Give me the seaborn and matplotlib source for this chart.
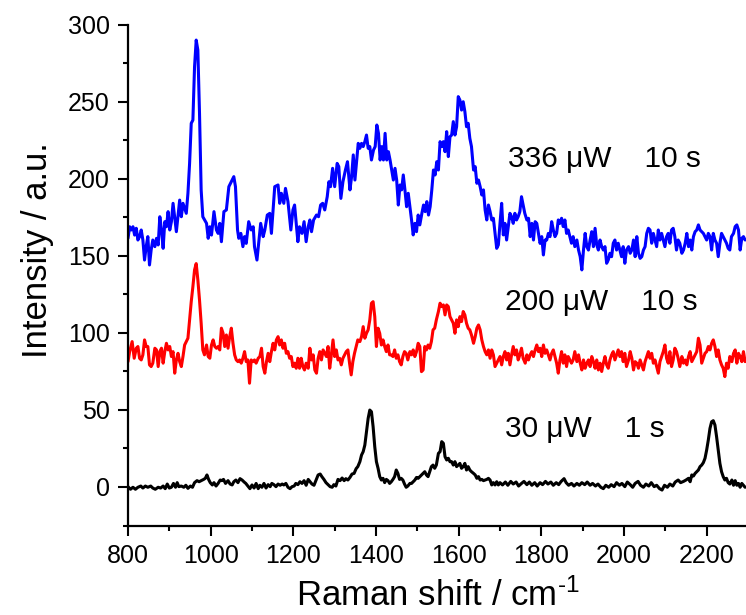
import numpy as np
import pandas as pd
import matplotlib
matplotlib.use("Agg")
import matplotlib.pyplot as plt
import seaborn as sns
from matplotlib.ticker import MultipleLocator

# ---------------------------------------------------------------------------
# Raman spectra (shift in cm^-1, intensity in a.u.)
# ---------------------------------------------------------------------------
blue_shift = [
    800, 804, 808, 812, 816, 820, 824, 828, 832, 836, 840, 844,
    848, 852, 856, 860, 865, 869, 873, 877, 881, 885, 889, 893,
    897, 901, 905, 909, 917, 925, 929, 933, 941, 945, 949, 953,
    957, 961, 965, 969, 973, 977, 981, 990, 994, 998, 1002, 1008,
    1014, 1018, 1022, 1026, 1032, 1038, 1044, 1050, 1056, 1060, 1065, 1068,
    1073, 1078, 1082, 1086, 1092, 1098, 1103, 1106, 1112, 1117, 1121, 1127,
    1131, 1137, 1143, 1147, 1155, 1163, 1167, 1171, 1177, 1181, 1187, 1194,
    1199, 1203, 1211, 1215, 1221, 1226, 1231, 1236, 1240, 1244, 1249, 1256,
    1261, 1266, 1271, 1276, 1282, 1286, 1290, 1295, 1300, 1306, 1310, 1315,
    1320, 1326, 1331,
    1337, 1341, 1345, 1349, 1353, 1357, 1361, 1365, 1369, 1373, 1377, 1381,
    1385, 1389, 1394, 1398, 1402, 1406, 1410, 1414, 1418, 1422, 1426, 1430,
    1434, 1438, 1442, 1446, 1450, 1454, 1458, 1462, 1466, 1470, 1474, 1478,
    1482, 1486, 1490, 1494, 1498, 1502, 1506, 1511, 1515, 1519, 1523, 1527,
    1531, 1535, 1539, 1543, 1547, 1551, 1555, 1559, 1563, 1567, 1571, 1575,
    1579, 1583, 1587, 1591, 1595, 1599, 1603, 1607, 1611, 1615, 1619, 1623,
    1627, 1631, 1636, 1640, 1644, 1648, 1652, 1656, 1660, 1664, 1668, 1672,
    1676, 1680, 1684, 1688, 1692, 1696, 1700, 1704, 1708, 1712, 1716, 1720,
    1724, 1728, 1732, 1736, 1740, 1744, 1748, 1752, 1756, 1760, 1765, 1769,
    1773, 1777, 1781, 1785, 1789, 1793, 1797, 1801, 1805, 1809, 1813, 1817,
    1821,
    1825, 1829, 1833, 1837, 1841, 1845, 1849, 1853, 1857, 1861, 1865, 1869,
    1873, 1877, 1881, 1886, 1890, 1894, 1898, 1902, 1906, 1910, 1914, 1918,
    1922, 1926, 1930, 1934, 1938, 1942, 1946, 1950, 1954, 1958, 1962, 1966,
    1970, 1974, 1978, 1982, 1986, 1990, 1994, 1998, 2002, 2006, 2011, 2015,
    2019, 2023, 2027, 2031, 2035, 2039, 2043, 2047, 2051, 2055, 2059, 2063,
    2067, 2071, 2075, 2079, 2083, 2087, 2091, 2095, 2099, 2103, 2107, 2111,
    2115, 2119, 2123, 2127, 2131, 2135, 2140, 2144, 2148, 2152, 2156, 2160,
    2164, 2168, 2172, 2176, 2180, 2184, 2188, 2192, 2196, 2200, 2204, 2208,
    2212, 2216, 2220, 2224, 2228, 2232, 2236, 2240, 2244, 2248, 2252, 2256,
    2260, 2265, 2269, 2273, 2277, 2281, 2285, 2289, 2293,
]
blue_intensity = [
    161.3, 168.8, 166.7, 168.8, 163.4, 167.8, 160.2, 162.4, 166.7, 160.2, 147.2, 155.9,
    162.4, 144.0, 153.7, 160.2, 155.9, 161.3, 157.0, 175.3, 166.7, 154.8, 172.1, 168.8,
    178.6, 166.7, 172.1, 184.0, 165.6, 186.1, 175.3, 184.0, 177.5, 190.5, 209.9, 235.9,
    238.0, 272.6, 289.9, 283.4, 242.4, 192.6, 175.3, 171.0, 161.3, 168.8, 163.4, 178.6,
    166.7, 164.5, 171.0, 159.1, 178.6, 179.7, 194.8, 198.0, 201.3, 194.8, 166.7, 161.3,
    164.5, 155.9, 162.4, 158.0, 172.1, 166.7, 168.8, 155.9, 147.2, 160.2, 171.0, 162.4,
    166.7, 176.4, 177.5, 164.5, 194.8, 195.9, 184.0, 190.5, 184.0, 193.7, 185.1, 166.7,
    179.7, 182.9, 159.1, 168.8, 164.5, 172.1, 159.1, 168.8, 173.2, 165.6, 173.2, 176.4,
    175.3, 182.9, 184.0, 179.7, 188.3, 198.0, 194.8, 206.7, 194.8, 209.9, 207.8, 187.2,
    198.0, 205.6, 211.0,
    192.7, 201.3, 215.4, 199.1, 211.0, 222.9, 219.7, 222.9, 220.8, 224.0, 228.3, 219.7,
    220.8, 212.1, 218.6, 220.8, 234.8, 229.4, 212.1, 220.8, 212.1, 229.4, 212.1, 217.5,
    212.1, 205.6, 199.1, 206.7, 199.1, 182.9, 195.9, 192.7, 202.4, 192.7, 181.8, 190.5,
    181.8, 173.2, 163.5, 171.0, 165.6, 176.4, 170.0, 177.5, 182.9, 178.6, 185.1, 176.4,
    181.8, 192.7, 205.6, 202.4, 211.0, 205.6, 224.0, 220.8, 224.0, 217.5, 230.5, 214.3,
    227.2, 228.3, 237.0, 228.3, 233.7, 253.2, 251.0, 244.5, 249.9, 243.5, 233.7, 235.9,
    226.2, 220.8, 205.6, 207.8, 197.0, 199.1, 194.8, 189.4, 192.7, 179.7, 173.2, 182.9,
    178.6, 173.2, 174.3, 164.5, 154.8, 157.0, 171.0, 184.0, 163.5, 171.0, 160.2, 168.9,
    177.5, 175.4, 171.0, 177.5, 173.2, 175.4, 178.6, 188.3, 182.9, 177.5, 173.2, 174.3,
    162.4, 171.0, 160.2, 172.1, 171.0, 164.5, 158.0, 162.4, 150.5, 160.2, 160.2, 164.5,
    162.4,
    172.1, 166.7, 162.4, 164.5, 173.2, 171.0, 174.3, 168.9, 173.2, 164.5, 166.7, 162.4,
    158.1, 162.4, 155.9, 160.2, 153.7, 149.4, 140.8, 153.7, 164.5, 155.9, 153.7, 160.2,
    165.6, 155.9, 167.8, 157.0, 153.7, 160.2, 155.9, 153.7, 155.9, 145.1, 147.3, 151.6,
    149.4, 158.1, 160.2, 153.7, 158.1, 153.7, 149.4, 155.9, 145.1, 153.7, 155.9, 151.6,
    153.7, 160.2, 149.4, 162.4, 151.6, 148.3, 149.4, 153.7, 155.9, 164.5, 167.8, 166.7,
    158.1, 164.5, 160.2, 155.9, 166.7, 160.2, 164.5, 160.2, 155.9, 162.4, 164.5, 158.1,
    166.7, 167.8, 162.4, 153.7, 160.2, 158.1, 151.6, 153.7, 158.1, 164.5, 155.9, 160.2,
    153.7, 162.4, 165.6, 166.7, 170.0, 166.7, 165.6, 164.5, 162.4, 160.2, 164.5, 162.4,
    153.7, 164.5, 160.2, 158.1, 149.4, 158.1, 164.5, 162.4, 160.2, 158.1, 154.8, 153.7,
    162.4, 164.5, 168.9, 170.0, 166.7, 153.7, 161.3, 162.4, 160.2,
]

red_shift = [
    800, 804, 810, 815, 820, 824, 828, 832, 836, 840, 844, 848,
    852, 856, 860, 865, 869, 873, 877, 881, 885, 889, 893, 897,
    901, 905, 909, 913, 917, 921, 925, 929, 933, 937, 941, 945,
    949, 953, 957, 961, 965, 969, 973, 977, 981, 985, 990, 994,
    998, 1002, 1006, 1010, 1014, 1018, 1022, 1026, 1030, 1034, 1038, 1042,
    1046, 1050, 1054, 1058, 1062, 1066, 1070, 1074, 1078, 1082, 1086, 1090,
    1094, 1098, 1102, 1106, 1110, 1115, 1119, 1123, 1127, 1131, 1135, 1139,
    1143, 1147, 1151, 1155, 1159, 1163, 1167, 1171, 1175, 1179, 1183, 1187,
    1191, 1195, 1199, 1203, 1207, 1211, 1215, 1219, 1223, 1227, 1231, 1236,
    1240, 1244, 1248, 1252, 1256, 1260, 1264, 1268, 1272, 1276, 1280, 1284,
    1288, 1292, 1296, 1300, 1304, 1308, 1312, 1316, 1320, 1324, 1328, 1332,
    1336, 1340, 1344, 1348, 1352, 1356, 1361, 1365, 1369, 1373, 1377, 1381,
    1385, 1389, 1393, 1397, 1401, 1405, 1409, 1413, 1417, 1421, 1425, 1429,
    1433, 1437, 1441, 1445, 1449, 1453, 1457, 1461, 1465, 1469, 1473, 1477,
    1482, 1486, 1490, 1494, 1498, 1502, 1506, 1510, 1514, 1518, 1522, 1526,
    1530, 1534, 1538, 1542, 1546,
    1551, 1555, 1559, 1563, 1567, 1571, 1575, 1579, 1583, 1587, 1591, 1595,
    1599, 1603, 1607, 1611, 1615, 1619, 1623, 1627, 1631, 1636, 1640, 1644,
    1648, 1652, 1656, 1660, 1664, 1668, 1672, 1676, 1680, 1684, 1688, 1692,
    1696, 1700, 1704, 1708, 1712, 1716, 1720, 1724, 1728, 1732, 1736, 1740,
    1744, 1748, 1752, 1756, 1761, 1765, 1769, 1773, 1777, 1781, 1785, 1789,
    1793, 1797, 1801, 1805, 1809, 1813, 1817, 1821, 1825, 1829, 1833, 1837,
    1841, 1845, 1849, 1853, 1857, 1861, 1865, 1869, 1873, 1877, 1881, 1886,
    1890, 1894, 1898, 1902, 1906, 1910, 1914, 1918, 1922, 1926, 1930, 1934,
    1938, 1942, 1946, 1950, 1954, 1958, 1962, 1966, 1970, 1974, 1978, 1982,
    1986, 1990, 1994, 1998, 2002, 2006, 2011, 2015, 2019, 2023, 2027, 2031,
    2035, 2039, 2043, 2047, 2051, 2055, 2059, 2063, 2067, 2071, 2075, 2079,
    2083, 2087, 2091, 2095, 2099, 2103, 2107, 2111, 2115, 2119, 2123, 2127,
    2131, 2135, 2140, 2144, 2148, 2152, 2156, 2160, 2164, 2168, 2172, 2176,
    2180, 2184, 2188, 2192, 2196, 2200, 2204, 2208, 2212, 2216, 2220, 2224,
    2228, 2232, 2236, 2240, 2244, 2248, 2252, 2256, 2261, 2265, 2269, 2273,
    2277, 2281, 2285, 2289, 2293,
]
red_intensity = [
    81.3, 87.8, 94.3, 83.5, 90.0, 91.1, 83.5, 82.4, 85.7, 95.4, 91.1, 91.1,
    79.2, 78.1, 80.3, 90.0, 88.9, 78.1, 87.8, 90.0, 80.3, 87.8, 93.2, 88.9,
    91.1, 84.6, 87.8, 73.8, 82.4, 86.7, 81.3, 78.1, 84.6, 92.1, 94.3, 96.5,
    108.4, 120.2, 130.0, 140.8, 144.9, 134.3, 121.3, 106.2, 88.9, 85.7, 92.1, 84.6,
    83.5, 92.1, 95.4, 91.1, 90.0, 91.1, 88.9, 103.0, 99.7, 91.1, 98.6, 90.0,
    97.5, 103.0, 93.2, 85.7, 82.4, 81.3, 82.4, 80.3, 83.5, 87.8, 81.3, 82.4,
    67.3, 82.4, 81.3, 82.4, 80.3, 83.5, 84.6, 90.0, 78.1, 73.8, 81.3, 86.7,
    81.3, 87.8, 93.2, 88.9, 95.4, 97.5, 92.1, 95.4, 90.0, 93.2, 86.7, 87.8,
    83.5, 84.6, 78.1, 80.3, 77.0, 83.5, 77.0, 83.5, 78.1, 75.9, 80.3, 77.0,
    90.0, 82.4, 85.7, 75.9, 73.8, 83.5, 87.8, 82.4, 88.9, 86.7, 84.6, 91.1,
    77.0, 85.7, 95.4, 84.6, 88.9, 82.4, 83.5, 79.2, 83.5, 85.7, 87.8, 88.9,
    80.3, 72.7, 81.3, 86.7, 91.1, 95.4, 94.3, 97.5, 104.0, 96.5, 99.7, 101.9,
    108.4, 119.2, 120.2, 110.5, 91.1, 103.0, 99.7, 92.1, 95.4, 91.1, 87.8, 92.1,
    85.7, 85.7, 84.6, 88.9, 83.5, 85.7, 81.3, 79.2, 84.6, 87.8, 86.7, 82.4,
    87.8, 85.7, 88.9, 84.6, 87.8, 93.2, 91.1, 74.8, 75.9, 91.1, 88.9, 92.1,
    90.0, 94.3, 101.9, 103.0, 108.4,
    113.8, 119.2, 117.0, 118.1, 111.6, 118.1, 117.0, 110.5, 108.4, 106.2, 99.7, 108.4,
    104.0, 110.5, 107.3, 113.8, 111.6, 106.2, 103.0, 101.9, 98.6, 93.2, 97.5, 103.0,
    105.1, 101.9, 95.4, 91.1, 87.8, 85.7, 88.9, 83.5, 88.9, 85.7, 78.1, 80.3,
    82.4, 84.6, 79.2, 84.6, 87.8, 82.4, 86.7, 79.2, 85.7, 91.1, 85.7, 88.9,
    82.4, 85.7, 90.0, 83.5, 80.3, 85.7, 82.4, 85.7, 87.8, 84.6, 88.9, 92.1,
    87.8, 90.0, 84.6, 92.1, 86.7, 88.9, 85.7, 82.4, 86.7, 88.9, 84.6, 80.3,
    73.8, 82.4, 87.8, 80.3, 85.7, 78.1, 84.6, 82.4, 80.3, 82.4, 87.8, 81.3,
    85.7, 80.3, 75.9, 82.4, 77.0, 80.3, 82.4, 78.1, 84.6, 81.3, 77.0, 82.4,
    75.9, 80.3, 74.9, 80.3, 84.6, 79.2, 77.0, 82.4, 85.7, 87.8, 82.4, 85.7,
    88.9, 84.6, 87.8, 81.3, 86.7, 78.1, 82.4, 87.8, 83.5, 75.9, 81.3, 80.3,
    77.0, 82.4, 79.2, 75.9, 81.3, 84.6, 87.8, 83.5, 86.7, 80.3, 82.4, 78.1,
    73.8, 81.3, 84.6, 87.8, 92.1, 83.5, 80.3, 87.8, 78.1, 82.4, 90.0, 87.8,
    83.5, 78.1, 84.6, 80.3, 82.4, 79.2, 84.6, 87.8, 81.3, 83.5, 85.7, 87.8,
    96.5, 92.1, 80.3, 83.5, 86.7, 87.8, 91.1, 88.9, 93.2, 95.4, 91.1, 84.6,
    88.9, 82.4, 79.2, 77.0, 71.6, 80.3, 77.0, 84.6, 81.3, 86.7, 88.9, 80.3,
    86.7, 84.6, 81.3, 87.8, 81.3,
]

black_shift = [
    800, 806, 812, 818, 824, 831, 836, 842, 848, 855, 860, 866,
    873, 879, 885, 890, 895, 900, 905, 910, 915, 919, 923, 929,
    935, 940, 945, 951, 956, 961, 967, 972, 977, 983, 987, 991,
    995, 999, 1004, 1008, 1013, 1018, 1023, 1027, 1031, 1036, 1042, 1047,
    1052, 1056, 1061, 1066, 1071, 1076, 1081, 1085, 1090, 1095, 1100, 1105,
    1110, 1115, 1119, 1124, 1129, 1134, 1139, 1144, 1148, 1153, 1158, 1163,
    1168, 1173, 1177, 1182, 1187, 1192, 1197, 1202, 1206, 1211, 1216, 1221,
    1226, 1231, 1236, 1240, 1245, 1250, 1255, 1260, 1265, 1269, 1274, 1279,
    1284, 1289, 1294, 1298, 1303, 1308, 1313, 1318, 1323, 1327, 1332, 1337,
    1342, 1347, 1352, 1356, 1361, 1365, 1369, 1373, 1377, 1381, 1385, 1389,
    1393, 1397, 1401, 1405, 1409, 1413, 1417, 1421, 1425, 1429, 1433, 1437,
    1441, 1445, 1449, 1453, 1457, 1461, 1465, 1469, 1473, 1477, 1482, 1486,
    1490, 1494, 1498, 1502, 1506, 1510, 1514, 1518, 1522, 1526, 1530, 1534,
    1538, 1542, 1546,
    1551, 1555, 1559, 1563, 1567, 1571, 1575, 1579, 1583, 1587, 1591, 1595,
    1599, 1603, 1607, 1611, 1615, 1619, 1623, 1627, 1631, 1636, 1640, 1644,
    1648, 1652, 1656, 1660, 1664, 1668, 1672, 1676, 1680, 1684, 1688, 1692,
    1696, 1700, 1706, 1713, 1719, 1726, 1732, 1739, 1745, 1752, 1758, 1765,
    1771, 1777, 1784, 1790, 1797, 1803, 1810, 1816, 1823, 1829, 1836, 1842,
    1848, 1855, 1860, 1866, 1873, 1879, 1886, 1892, 1898, 1905, 1911, 1918,
    1924, 1931, 1937, 1944, 1950, 1956, 1963, 1969, 1976, 1982, 1989, 1995,
    2002, 2008, 2015, 2021, 2027, 2034, 2040, 2047, 2053, 2060, 2066, 2073,
    2079, 2086, 2092, 2098, 2105, 2111, 2118, 2124, 2131, 2137, 2144, 2150,
    2156, 2160, 2164, 2168, 2172, 2176, 2180, 2184, 2188, 2192, 2196, 2200,
    2204, 2208, 2212, 2216, 2220, 2224, 2228, 2232, 2236, 2240, 2244, 2248,
    2252, 2256, 2261, 2265, 2269, 2273, 2277, 2281, 2285, 2289, 2293,
]
black_intensity = [
    0.2, -1.5, -0.2, -1.5, -0.2, 0.6, -0.7, 0.6, -0.2, 0.6, -0.7, -1.5,
    -0.2, -0.7, 0.6, -1.1, 1.9, -0.7, -0.2, 2.3, -0.2, 2.8, 0.2, 0.6,
    -0.2, 1.1, -0.9, 0.6, -0.2, 2.8, 4.1, 3.4, 4.1, 4.9, 5.6, 7.8,
    4.9, 2.8, 1.3, 2.8, 0.6, 2.3, 4.5, 4.1, 4.9, 2.3, 4.1, 1.9,
    1.3, 3.4, 4.5, 2.8, 5.4, 4.5, 3.2, 2.3, 0.6, -1.1, 1.3, -0.7,
    2.3, -1.1, 1.1, -0.2, 2.3, -0.7, 1.5, 0.2, 2.3, 1.5, 0.2, 1.9,
    1.1, 1.9, 1.3, 2.3, -0.2, -1.1, 0.2, 0.6, 2.3, 1.5, 3.4, 2.3,
    4.1, 1.1, 4.9, 3.6, 1.9, 1.1, 4.5, 7.8, 8.4, 6.7, 4.9, 2.8,
    1.5, 0.2, -0.2, 1.5, 0.6, 4.9, 4.1, 5.8, 4.1, 5.4, 4.5, 6.2,
    8.4, 8.8, 11.9, 13.2, 16.4, 20.7, 22.9, 27.2, 35.9, 44.5, 49.9, 48.8,
    39.1, 26.1, 16.4, 12.1, 6.7, 4.5, 5.6, 2.8, 4.9, 4.1, 2.3, 3.4,
    4.9, 6.7, 11.0, 8.8, 4.9, 5.6, 4.5, 1.9, -0.2, 0.6, 2.3, 2.3,
    3.4, 4.5, 6.2, 5.6, 6.7, 7.8, 8.8, 9.9, 7.8, 6.7, 9.9, 13.2,
    14.2, 12.1, 14.2,
    21.8, 22.9, 29.4, 28.3, 19.6, 17.5, 18.6, 16.4, 16.4, 14.2, 16.4, 13.2,
    14.2, 15.3, 12.1, 13.2, 15.3, 11.0, 13.2, 11.0, 9.9, 8.8, 7.8, 5.6,
    6.7, 4.5, 4.9, 4.1, 4.5, 4.9, 5.6, 4.5, 1.3, 2.8, 1.3, 3.4,
    1.3, 2.8, 1.3, 3.2, 1.1, 3.6, 1.9, 3.2, 0.6, 2.3, 3.6, 1.5,
    3.2, 1.1, 2.8, 0.6, 2.8, 1.5, 3.6, 1.9, 3.2, 1.1, 2.8, 1.5,
    3.6, 5.4, 2.8, 1.1, 2.3, 0.6, 2.3, 1.1, 2.8, 1.5, 3.2, 1.1,
    2.3, 0.6, 1.9, -0.2, -1.1, 1.1, -0.2, 1.5, 0.2, 2.8, 1.1, 2.3,
    0.2, 3.2, 1.5, -0.2, 2.3, 3.6, 1.1, -0.2, 1.9, 0.6, 2.8, 0.2,
    1.1, -1.1, -2.0, 1.1, -0.2, 1.9, 0.6, 3.2, 4.5, 2.8, 3.6, 4.5,
    5.6, 3.4, 7.8, 7.1, 8.8, 9.9, 11.0, 13.2, 14.2, 15.8, 18.6, 24.0,
    30.5, 38.0, 42.3, 43.0, 40.2, 32.6, 24.0, 15.3, 9.9, 6.7, 4.5, 5.6,
    2.8, 1.9, 4.5, 1.1, 4.1, 1.1, 2.3, -0.2, 2.3, 1.1, -0.2,
]

spectrum_names = ["30 μW    1 s", "200 μW    10 s", "336 μW    10 s"]
spectrum_colors = ["black", "red", "blue"]

# ---------------------------------------------------------------------------
# Long-form table for seaborn
# ---------------------------------------------------------------------------
frames = []
for name, xs, ys in zip(spectrum_names,
                        [black_shift, red_shift, blue_shift],
                        [black_intensity, red_intensity, blue_intensity]):
    assert len(xs) == len(ys), name
    frames.append(pd.DataFrame({"shift": xs, "intensity": ys, "spectrum": name}))
df = pd.concat(frames, ignore_index=True)

# ---------------------------------------------------------------------------
# Styling
# ---------------------------------------------------------------------------
sns.set_style("ticks")
plt.rcParams["font.family"] = ["Liberation Sans", "DejaVu Sans"]
plt.rcParams["mathtext.fontset"] = "custom"
plt.rcParams["mathtext.rm"] = "Liberation Sans"
plt.rcParams["mathtext.it"] = "Liberation Sans:italic"
plt.rcParams["mathtext.bf"] = "Liberation Sans:bold"

fig = plt.figure(figsize=(7.46, 6.15), dpi=100)
ax = fig.add_axes([128 / 746, 89.5 / 615, 620 / 746, 501 / 615])

sns.lineplot(data=df, x="shift", y="intensity", hue="spectrum",
             hue_order=spectrum_names,
             palette=dict(zip(spectrum_names, spectrum_colors)),
             sort=False, estimator=None, legend=False,
             linewidth=2.2, ax=ax)

ax.set_xlim(800, 2300)
ax.set_ylim(-25, 300)
ax.xaxis.set_major_locator(MultipleLocator(200))
ax.xaxis.set_minor_locator(MultipleLocator(100))
ax.yaxis.set_major_locator(MultipleLocator(50))
ax.yaxis.set_minor_locator(MultipleLocator(25))

ax.tick_params(which="major", direction="out", length=7.2, width=1.5,
               labelsize=18, pad=6, color="black", labelcolor="black")
ax.tick_params(which="minor", direction="out", length=3.6, width=1.5,
               color="black")

sns.despine(ax=ax)
for side in ("left", "bottom"):
    ax.spines[side].set_linewidth(1.6)
    ax.spines[side].set_color("black")

ax.set_xlabel("Raman shift / cm$^{\\text{-1}}$", fontsize=25, color="black")
ax.set_ylabel("Intensity / a.u.", fontsize=25, color="black")
ax.xaxis.set_label_coords(0.5, -0.106)
ax.yaxis.set_label_coords(-0.12, 0.55)

# Acquisition conditions next to each spectrum
label_pos = [(1712, 32.2), (1712, 114.8), (1719, 207.8)]
for name, (lx, ly) in zip(spectrum_names, label_pos):
    ax.text(lx, ly, name, fontsize=21.5, ha="left", va="baseline", color="black")

fig.savefig("out.png", dpi=100)
